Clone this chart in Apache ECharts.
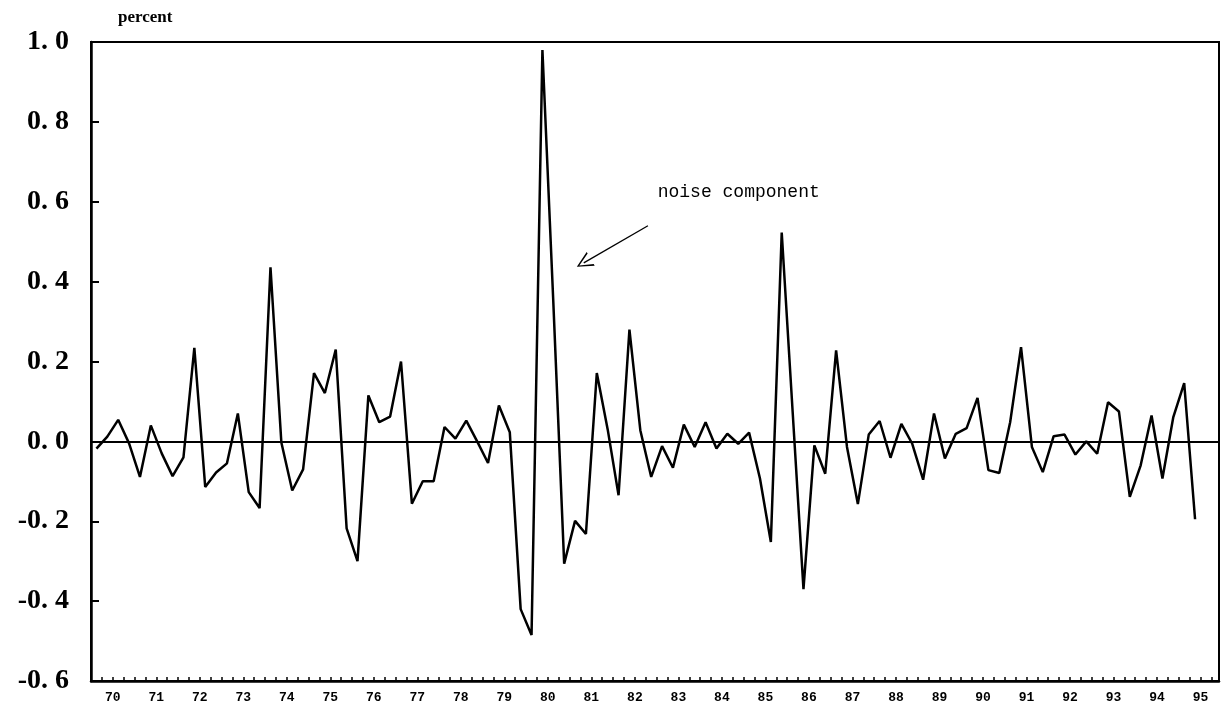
<!DOCTYPE html>
<html>
<head>
<meta charset="utf-8">
<title>noise component</title>
<script src="https://cdn.jsdelivr.net/npm/echarts@6/dist/echarts.min.js"></script>
<style>
    html, body {margin: 0; padding: 0; background: #fff;}
    #chart_noise {width: 1223px; height: 706px;}
</style>
</head>
<body>
<div id="chart_noise"></div>
<script>
// quarterly noise component, 1970Q1 .. 1995Q2 (percent)
const yearLabels = ['70','71','72','73','74','75','76','77','78','79','80','81','82',
    '83','84','85','86','87','88','89','90','91','92','93','94','95'];
const noise = [
    -0.018, 0.012, 0.054, -0.005,   // 70
    -0.089, 0.040, -0.030, -0.087,  // 71
    -0.040, 0.234, -0.114, -0.078,  // 72
    -0.055, 0.070, -0.127, -0.167,  // 73
    0.436, -0.003, -0.123, -0.070,  // 74
    0.171, 0.121, 0.230, -0.218,    // 75
    -0.300, 0.115, 0.048, 0.062,    // 76
    0.200, -0.156, -0.100, -0.100,  // 77
    0.036, 0.007, 0.052, 0.000,     // 78
    -0.054, 0.090, 0.023, -0.420,   // 79
    -0.485, 0.980, 0.350, -0.306,   // 80
    -0.199, -0.232, 0.171, 0.030,   // 81
    -0.135, 0.280, 0.028, -0.089,   // 82
    -0.012, -0.066, 0.042, -0.014,  // 83
    0.048, -0.018, 0.019, -0.006,   // 84
    0.022, -0.093, -0.252, 0.523,   // 85
    0.076, -0.370, -0.010, -0.081,  // 86
    0.228, -0.014, -0.157, 0.017,   // 87
    0.051, -0.041, 0.044, -0.006,   // 88
    -0.096, 0.070, -0.043, 0.019,   // 89
    0.033, 0.109, -0.072, -0.079,   // 90
    0.048, 0.236, -0.014, -0.077,   // 91
    0.013, 0.017, -0.033, 0.000,    // 92
    -0.031, 0.098, 0.075, -0.139,   // 93
    -0.060, 0.065, -0.093, 0.061,   // 94
    0.146, -0.195                   // 95
];
const yTicks = {min: -0.6, max: 1.0, step: 0.2};

// x position: quarter index shifted half a step, ticks fall between quarters
let seriesData = noise.map((v, i) => [i + 0.5, v]);

let myChart = echarts.init(document.getElementById('chart_noise'));
let options = {
    animation: false,
    grid: {
        left: 91,
        right: 4,
        top: 42,
        bottom: 25,
        show: true,
        borderColor: '#000',
        borderWidth: 2
    },
    xAxis: {
        type: 'value',
        min: 0,
        max: 103.7,
        interval: 1,
        axisLine: {onZero: false, lineStyle: {color: '#000', width: 2.5}},
        axisTick: {inside: true, length: 4, lineStyle: {color: '#000', width: 1.5}},
        splitLine: {show: false},
        axisLabel: {
            color: '#000',
            fontFamily: 'Liberation Mono',
            fontWeight: 'bold',
            fontSize: 13,
            margin: 10,
            formatter: (v) => {
                let k = (v - 2) / 4;
                return Number.isInteger(k) && k >= 0 && k < yearLabels.length ? yearLabels[k] : '';
            }
        }
    },
    yAxis: {
        type: 'value',
        min: yTicks.min,
        max: yTicks.max,
        interval: yTicks.step,
        name: 'percent',
        nameLocation: 'end',
        nameGap: 16,
        nameTextStyle: {
            color: '#000',
            fontFamily: 'Liberation Serif',
            fontWeight: 'bold',
            fontSize: 17,
            align: 'left',
            padding: [0, 0, 0, 27]
        },
        axisLine: {lineStyle: {color: '#000', width: 2.5}},
        axisTick: {inside: true, length: 8, lineStyle: {color: '#000', width: 2}},
        splitLine: {show: false},
        axisLabel: {
            color: '#000',
            fontFamily: 'Liberation Serif',
            fontWeight: 'bold',
            fontSize: 28,
            margin: 22,
            formatter: (v) => v.toFixed(1).replace('.', '. ')
        }
    },
    series: [
        {
            name: 'noise component',
            type: 'line',
            showSymbol: false,
            symbol: 'none',
            lineStyle: {color: '#000', width: 2.5},
            data: seriesData,
            markLine: {
                silent: true,
                symbol: ['none', 'none'],
                label: {show: false},
                lineStyle: {color: '#000', width: 2, type: 'solid'},
                data: [
                    {yAxis: 0},
                    [
                        {coord: [51.2, 0.54], lineStyle: {width: 1.3, color: '#000', type: 'solid'}},
                        {coord: [45.3, 0.447], symbol: 'path://M5,0 L10,10 L8.8,10 L5,1.8 L1.2,10 L0,10 Z', symbolSize: [16, 16]}
                    ]
                ]
            },
            markPoint: {
                silent: true,
                symbol: 'circle',
                symbolSize: 0,
                data: [
                    {
                        coord: [52.1, 0.625],
                        label: {
                            show: true,
                            position: 'right',
                            distance: 0,
                            formatter: 'noise component',
                            color: '#000',
                            fontFamily: 'Liberation Mono',
                            fontSize: 18
                        }
                    }
                ]
            }
        }
    ]
};
myChart.setOption(options);
</script>
</body>
</html>
